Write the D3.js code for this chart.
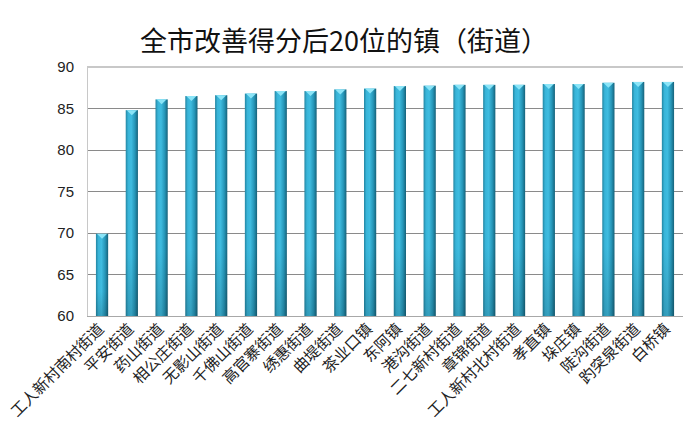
<!DOCTYPE html>
<html><head><meta charset="utf-8">
<script src="https://cdn.jsdelivr.net/npm/d3@7"></script>
<style>body{margin:0;background:#fff}svg{display:block}</style>
</head><body>
<svg id="c" width="700" height="438"></svg>
<script>
const categories = ["工人新村南村街道","平安街道","药山街道","相公庄街道","无影山街道","千佛山街道","高官寨街道","绣惠街道","曲堤街道","茶业口镇","东阿镇","港沟街道","二七新村街道","章锦街道","工人新村北村街道","孝直镇","垛庄镇","陡沟街道","趵突泉街道","白桥镇"];
const values = [69.9,84.8,86.1,86.5,86.6,86.8,87.1,87.1,87.3,87.4,87.7,87.75,87.85,87.85,87.85,87.95,87.95,88.1,88.2,88.2];
const yTicks = [60,65,70,75,80,85,90];
const title = "全市改善得分后20位的镇（街道）";

const svg = d3.select("#c");
const m = {l:87, r:683, t:67, b:316};
const x = d3.scaleBand().domain(categories).range([m.l, m.r]).paddingInner(0.59).paddingOuter(0.3);
const y = d3.scaleLinear().domain([60,90]).range([m.b, m.t]);

const defs = svg.append("defs");
const g = defs.append("linearGradient").attr("id","bar").attr("x1","0").attr("x2","1").attr("y1","0").attr("y2","0");
[[0,"#2385a2"],[0.2,"#38b4d8"],[0.45,"#3fbce0"],[0.75,"#2696b8"],[1,"#16627a"]].forEach(s=>g.append("stop").attr("offset",s[0]).attr("stop-color",s[1]));
const gv = defs.append("linearGradient").attr("id","shade").attr("x1","0").attr("x2","0").attr("y1","0").attr("y2","1");
[[0,"#000",0],[0.7,"#000",0],[1,"#000",0.15]].forEach(s=>gv.append("stop").attr("offset",s[0]).attr("stop-color",s[1]).attr("stop-opacity",s[2]));

svg.append("text").attr("x",344).attr("y",51).attr("text-anchor","middle")
  .attr("font-family","'Noto Sans CJK SC'").attr("font-size",27).attr("fill","#111").text(title);

// gridlines
svg.append("g").selectAll("line").data(yTicks).join("line")
  .attr("x1",m.l).attr("x2",m.r).attr("y1",d=>y(d)).attr("y2",d=>y(d))
  .attr("stroke",d=>d===90?"#c8c8c8":(d===60?"#a8a8a8":"#8a8a8a")).attr("stroke-width",d=>d===90?1.5:1)
  .attr("shape-rendering","crispEdges");
svg.append("line").attr("x1",m.l).attr("x2",m.l).attr("y1",m.t).attr("y2",m.b).attr("stroke","#c8c8c8").attr("shape-rendering","crispEdges");

// y axis
const ya = svg.append("g").attr("transform",`translate(${m.l},0)`).call(d3.axisLeft(y).tickValues(yTicks).tickSize(0).tickPadding(13));
ya.select(".domain").remove();
ya.selectAll("text").attr("font-family","'Liberation Sans', Arial").attr("font-size",15).attr("fill","#222");

// bars
const bars = svg.append("g");
bars.selectAll("rect.b").data(values).join("rect").attr("class","b")
  .attr("x",(d,i)=>x(categories[i])).attr("width",x.bandwidth())
  .attr("y",d=>y(d)).attr("height",d=>y(60)-y(d)).attr("fill","url(#bar)");
bars.selectAll("rect.s").data(values).join("rect").attr("class","s")
  .attr("x",(d,i)=>x(categories[i])).attr("width",x.bandwidth())
  .attr("y",d=>y(d)).attr("height",d=>y(60)-y(d)).attr("fill","url(#shade)");
bars.selectAll("path.cap").data(values).join("path").attr("class","cap")
  .attr("d",(d,i)=>{const x0=x(categories[i]), w=x.bandwidth(), t=y(d);
    return `M${x0+1},${t} L${x0+w-1},${t} L${x0+w/2},${t+5} Z`;})
  .attr("fill","#8ae4f7");

// x labels
svg.append("g").selectAll("text").data(categories).join("text")
  .attr("transform",d=>`translate(${x(d)+x.bandwidth()/2+3},${m.b+14}) rotate(-45)`)
  .attr("text-anchor","end").attr("font-family","'Noto Sans CJK SC'").attr("font-size",15.5).attr("fill","#222")
  .text(d=>d);
</script>
</body></html>
